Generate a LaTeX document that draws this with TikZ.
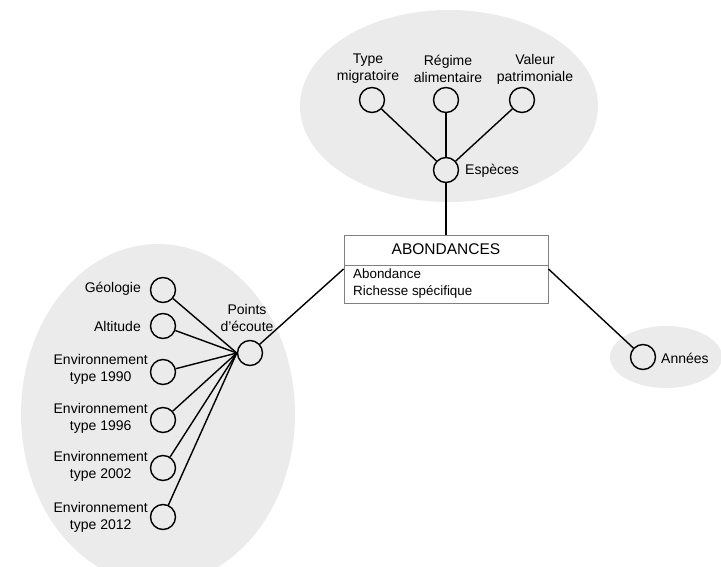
\documentclass[tikz,border=0pt]{standalone}
\usepackage{fontspec}
\setmainfont{Liberation Sans}
\begin{document}
\begin{tikzpicture}[x=1pt,y=-1pt,
  zone/.style={fill=black!8,draw=none},
  ent/.style={circle,draw=black,line width=1.4pt,minimum size=25pt,inner sep=0pt},
  lbl/.style={font=\fontsize{14}{17}\selectfont,inner sep=0pt,align=center},
  link/.style={line width=1.4pt,black}]
\useasboundingbox (0,0) rectangle (721,567);
% zones
\fill[zone] (449,106) ellipse [x radius=149,y radius=96];
\fill[zone] (158,414) ellipse [x radius=137,y radius=170];
\fill[zone] (666,357) ellipse [x radius=56,y radius=31];
% central box
\node[draw=black!50,line width=0.9pt,minimum width=204pt,minimum height=68pt,inner sep=0pt] (ab) at (446,269) {};
\draw[black!50,line width=0.9pt] (344,265) -- (548,265);
\node[font=\fontsize{15.5}{18}\selectfont,inner sep=0pt] (abt) at (446,249) {ABONDANCES};
\node[font=\fontsize{13.4}{17}\selectfont,inner sep=0pt,align=left,anchor=west] (abat) at (353,284) {Abondance\\Richesse spécifique};
% top entities
\node[ent] (typ) at (372,100) {};
\node[ent] (reg) at (446,100) {};
\node[ent] (val) at (522,100) {};
\node[ent] (esp) at (446,170) {};
\node[lbl] (typl) at (368,69) {Type\\migratoire};
\node[lbl] (regl) at (448,69) {Régime\\alimentaire};
\node[lbl] (vall) at (535,69) {Valeur\\patrimoniale};
\node[lbl,anchor=west] (espl) at (465,171) {Espèces};
% left entities
\node[ent] (pts) at (250,353) {};
\node[lbl] (ptsl) at (247,318) {Points\\d'écoute};
\node[ent] (geo) at (163,290) {};
\node[ent] (alt) at (163,326) {};
\node[ent] (e90) at (163,372) {};
\node[ent] (e96) at (163,420) {};
\node[ent] (e02) at (163,468) {};
\node[ent] (e12) at (163,517) {};
\node[lbl,anchor=east] (geol) at (141,289) {Géologie};
\node[lbl,anchor=east] (altl) at (141,326) {Altitude};
\node[lbl,anchor=east] (e90l) at (148,369) {Environnement\\type 1990};
\node[lbl,anchor=east] (e96l) at (148,418) {Environnement\\type 1996};
\node[lbl,anchor=east] (e02l) at (148,466) {Environnement\\type 2002};
\node[lbl,anchor=east] (e12l) at (148,517) {Environnement\\type 2012};
% right entity
\node[ent] (ann) at (643,357) {};
\node[lbl,anchor=west] (annl) at (661,358) {Années};
% links
\draw[link] (typ) -- (esp);
\draw[link] (reg) -- (esp);
\draw[link] (val) -- (esp);
\draw[link] (esp) -- (ab.north);
\draw[link] (pts) -- (ab.west);
\draw[link] (ann) -- (ab.east);
\foreach \n in {geo,alt,e90,e96,e02,e12}{\draw[link] (\n) -- (pts.west);}
\end{tikzpicture}
\end{document}
